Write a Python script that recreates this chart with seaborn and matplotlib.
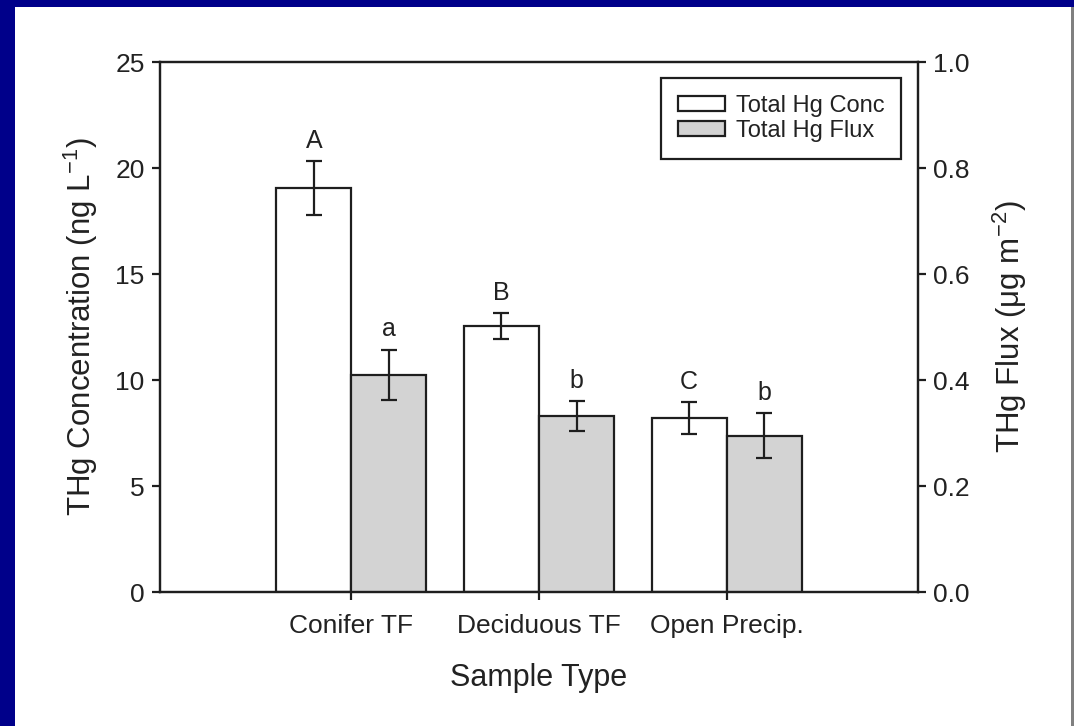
import numpy as np
import pandas as pd
import matplotlib
matplotlib.use("Agg")
import matplotlib.pyplot as plt
import seaborn as sns
from matplotlib.patches import Rectangle, Patch

categories = ["Conifer TF", "Deciduous TF", "Open Precip."]
series = ["Total Hg Conc", "Total Hg Flux"]
conc_mean = [19.05, 12.55, 8.2]
conc_err = [1.27, 0.6, 0.75]
flux_mean = [0.41, 0.332, 0.295]
flux_err = [0.047, 0.028, 0.042]
conc_letters = ["A", "B", "C"]
flux_letters = ["a", "b", "b"]
conc_ticks = [0, 5, 10, 15, 20, 25]
flux_ticks = [0.0, 0.2, 0.4, 0.6, 0.8, 1.0]

sns.set_theme(style="ticks")
plt.rcParams["font.family"] = ["Liberation Sans", "DejaVu Sans"]
plt.rcParams["mathtext.fontset"] = "custom"
plt.rcParams["mathtext.rm"] = "Liberation Sans"
plt.rcParams["mathtext.it"] = "Liberation Sans"
plt.rcParams["mathtext.default"] = "regular"

INK = "#1e1e1e"
TXT = "#222222"
fig = plt.figure(figsize=(10.74, 7.26), dpi=100)
fig.patch.set_facecolor("#00008a")
fig.add_artist(Rectangle((15 / 1074, 0), (1070.5 - 15) / 1074, (726 - 7) / 726,
                         transform=fig.transFigure, facecolor="white", edgecolor="none", zorder=0))
fig.add_artist(Rectangle((1070.5 / 1074, 0), 4 / 1074, (726 - 7) / 726,
                         transform=fig.transFigure, facecolor="#808080", edgecolor="none", zorder=0))

ax1 = fig.add_axes([160 / 1074, 1 - 592 / 726, (918 - 160) / 1074, (592 - 62) / 726])
ax2 = ax1.twinx()

palette = {series[0]: "white", series[1]: "#d3d3d3"}
n = len(categories)
nan = [np.nan] * n
df_conc = pd.DataFrame({"type": categories * 2, "series": [series[0]] * n + [series[1]] * n,
                        "value": list(conc_mean) + nan})
df_flux = pd.DataFrame({"type": categories * 2, "series": [series[0]] * n + [series[1]] * n,
                        "value": nan + list(flux_mean)})

for ax, df in ((ax1, df_conc), (ax2, df_flux)):
    sns.barplot(data=df, x="type", y="value", hue="series", hue_order=series, order=categories,
                palette=palette, width=0.8, edgecolor=INK, linewidth=1.6, errorbar=None,
                ax=ax, legend=False, saturation=1)

def centers(ax):
    ps = [p for p in ax.patches if np.isfinite(p.get_height()) and p.get_height() > 0]
    ps = sorted(ps, key=lambda p: p.get_x())
    return [p.get_x() + p.get_width() / 2 for p in ps]

for ax, means, errs, letters in [(ax1, conc_mean, conc_err, conc_letters),
                                 (ax2, flux_mean, flux_err, flux_letters)]:
    xs = centers(ax)
    ax.errorbar(xs, means, yerr=errs, fmt="none", ecolor=INK, elinewidth=1.6,
                capsize=6, capthick=1.6, zorder=5)
    for x, m, e, l in zip(xs, means, errs, letters):
        ax.annotate(l, (x, m + e), xytext=(0, 6), textcoords="offset points",
                    ha="center", va="bottom", fontsize=18, color=TXT)

ax1.set_xlim(-1.02, 3.02)
ax1.set_ylim(0, 25)
ax2.set_ylim(0, 1.0)
ax1.set_yticks(conc_ticks)
ax1.set_yticklabels([str(t) for t in conc_ticks])
ax2.set_yticks(flux_ticks)
ax2.set_yticklabels([f"{t:.1f}" for t in flux_ticks])
ax1.set_xticks(range(len(categories)))
ax1.set_xticklabels(categories)

ax1.set_xlabel("Sample Type", fontsize=22, color=TXT, labelpad=18)
ax1.set_ylabel("THg Concentration (ng L$^{-1}$)", fontsize=22.5, color=TXT, labelpad=11)
ax2.set_ylabel("THg Flux (\u03bcg m$^{-2}$)", fontsize=22.5, color=TXT, labelpad=15)

for ax in (ax1, ax2):
    for s in ax.spines.values():
        s.set_visible(True)
        s.set_linewidth(1.6)
        s.set_color(INK)
    ax.tick_params(axis="both", direction="out", length=6, width=1.6, color=INK,
                   labelsize=19, labelcolor=TXT, pad=5)
ax1.tick_params(axis="x", pad=10)
ax2.tick_params(axis="x", length=0)

handles = [Patch(facecolor=palette[s], edgecolor=INK, linewidth=1.6, label=s) for s in series]
leg = ax2.legend(handles=handles, loc="upper right", bbox_to_anchor=(0.978, 0.97),
                 borderaxespad=0, frameon=True, fancybox=False, framealpha=1,
                 edgecolor=INK, fontsize=17, handlelength=2.0, handleheight=0.6,
                 labelspacing=0.12, borderpad=0.72, handletextpad=0.45)
leg.get_frame().set_linewidth(1.6)
for t in leg.get_texts():
    t.set_color(TXT)

fig.savefig("out.png", dpi=100, facecolor=fig.get_facecolor())
